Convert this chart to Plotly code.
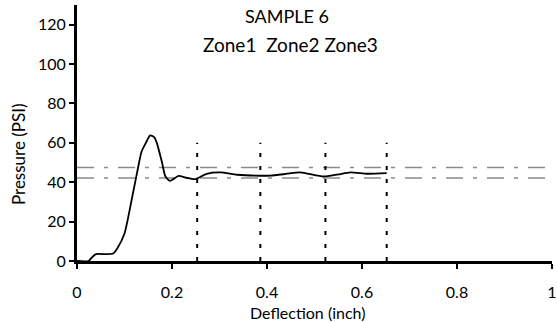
import plotly.graph_objects as go

# Curve data (deflection inch, pressure PSI)
defl = [0.0, 0.024, 0.032, 0.04, 0.06, 0.076, 0.085, 0.10, 0.115, 0.129, 0.136, 0.145, 0.154, 0.162, 0.168, 0.179,
        0.186, 0.196, 0.214, 0.228, 0.249, 0.273, 0.302, 0.337, 0.386, 0.407, 0.44, 0.47, 0.519,
        0.55, 0.576, 0.611, 0.652]
press = [0.0, 0.0, 2.0, 3.5, 3.5, 3.8, 6.5, 14, 31, 48, 55.6, 60, 63.8, 63, 60, 50,
         43, 40.7, 43.2, 42.4, 41.6, 44.3, 45, 43.8, 43.3, 43.4, 44.2, 45, 42.9,
         44, 45, 44.3, 44.6]

zone_lines = [0.253, 0.386, 0.523, 0.652]
zone_top = 60
limit_lines = [47.5, 42.2]

x_ticks = [0, 0.2, 0.4, 0.6, 0.8, 1]
x_labels = ["0", "0.2", "0.4", "0.6", "0.8", "1"]
y_ticks = [0, 20, 40, 60, 80, 100, 120]

FONT = "Lato"

fig = go.Figure()

for yv in limit_lines:
    fig.add_trace(go.Scatter(x=[0, 1], y=[yv, yv], mode="lines",
                             line=dict(color="#8a8a8a", width=1.5, dash="17px,10px,4px,10px"),
                             showlegend=False, hoverinfo="skip"))

for xv in zone_lines:
    fig.add_trace(go.Scatter(x=[xv, xv], y=[0, zone_top], mode="lines",
                             line=dict(color="black", width=2, dash="4px,9px"),
                             showlegend=False, hoverinfo="skip"))

fig.add_trace(go.Scatter(x=defl, y=press, mode="lines",
                         line=dict(color="black", width=1.8, shape="spline", smoothing=0.6),
                         showlegend=False))

L, R, T, B = 77, 5, 5, 61
W, H = 557, 322
pw = W - L - R
ph = H - T - B

def px(x):
    return (x - L) / pw

def py(y):
    return (H - y - B) / ph

def ann(text, x, y, size, angle=0):
    return dict(text=text, x=px(x), y=py(y), xref="paper", yref="paper", showarrow=False,
                xanchor="center", yanchor="middle", textangle=angle, font=dict(size=size))

fig.update_layout(
    width=W, height=H,
    margin=dict(l=L, r=R, t=T, b=B, autoexpand=False),
    paper_bgcolor="white", plot_bgcolor="white",
    font=dict(family=FONT, size=16, color="black"),
    xaxis=dict(range=[0, 1], tickvals=x_ticks, ticktext=x_labels, automargin=False,
               showgrid=False, zeroline=False, showline=True, linewidth=3, linecolor="black",
               ticks="outside", ticklen=5, tickwidth=2, tickcolor="black",
               tickfont=dict(size=16), ticklabelstandoff=10),
    yaxis=dict(range=[0, 130], tickvals=y_ticks, automargin=False,
               showgrid=False, zeroline=False, showline=True, linewidth=3, linecolor="black",
               ticks="outside", ticklen=5, tickwidth=2, tickcolor="black",
               tickfont=dict(size=16)),
    annotations=[
        ann("SAMPLE 6", 287, 16, 18),
        ann("Zone1  Zone2 Zone3", 290, 44, 19),
        ann("Deflection (inch)", 308, 312, 16),
        ann("Pressure (PSI)", 18, 154, 17, -90),
    ],
)

fig.write_html("out.html", post_script="document.body.style.margin='0';",
               config={"displayModeBar": False})
